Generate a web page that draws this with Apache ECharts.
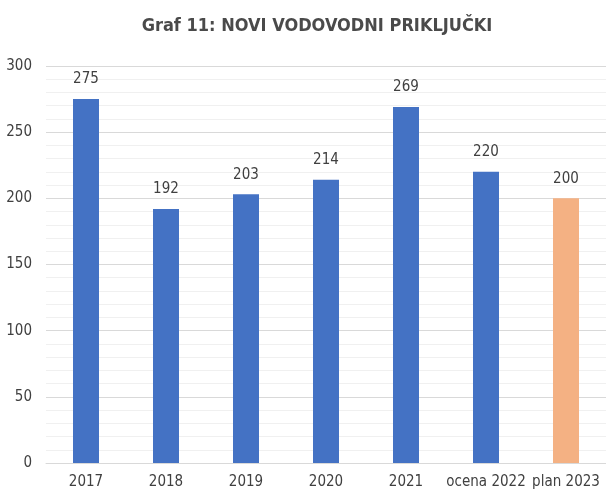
<!DOCTYPE html>
<html>
<head>
<meta charset="utf-8">
<script src="https://cdn.jsdelivr.net/npm/echarts@6/dist/echarts.min.js"></script>
<style>
  html, body { margin: 0; padding: 0; background: #fff; }
  #chart { width: 606px; height: 495px; }
</style>
</head>
<body>
<div id="chart"></div>
<script>
var categories = ['2017', '2018', '2019', '2020', '2021', 'ocena 2022', 'plan 2023'];
var values = [275, 192, 203, 214, 269, 220, 200];
var barColors = ['#4472C4', '#4472C4', '#4472C4', '#4472C4', '#4472C4', '#4472C4', '#F4B183'];
var yTicks = [0, 50, 100, 150, 200, 250, 300];

var font = '"Liberation Sans Narrow", "DejaVu Sans Condensed", "Noto Sans", sans-serif';
var chart = echarts.init(document.getElementById('chart'));

chart.setOption({
    backgroundColor: '#fff',
    animation: false,
    title: {
        text: 'Graf 11: NOVI VODOVODNI PRIKLJUČKI',
        left: 312,
        textAlign: 'center',
        top: 12,
        textStyle: { color: '#4a4a4a', fontSize: 18, fontWeight: 'bold', fontFamily: font }
    },
    grid: { left: 46, right: -2, top: 66, bottom: 32 },
    xAxis: {
        type: 'category',
        data: categories,
        axisLine: { lineStyle: { color: '#d9d9d9' } },
        axisTick: { show: false },
        axisLabel: { color: '#404040', fontSize: 15, fontFamily: font, margin: 12, interval: 0 }
    },
    yAxis: {
        type: 'value',
        min: yTicks[0],
        max: yTicks[yTicks.length - 1],
        interval: 50,
        axisLine: { show: false },
        axisTick: { show: false },
        axisLabel: { color: '#404040', fontSize: 15, fontFamily: font, margin: 14 },
        splitLine: { lineStyle: { color: '#d9d9d9' } },
        minorTick: { show: false, splitNumber: 5 },
        minorSplitLine: { show: true, lineStyle: { color: '#f0f0f0' } }
    },
    series: [{
        type: 'bar',
        data: values,
        barWidth: 26,
        itemStyle: {
            color: function (p) { return barColors[p.dataIndex]; }
        },
        label: {
            show: true,
            position: 'top',
            distance: 12,
            color: '#404040',
            fontSize: 15,
            fontFamily: font
        }
    }]
});
</script>
</body>
</html>
